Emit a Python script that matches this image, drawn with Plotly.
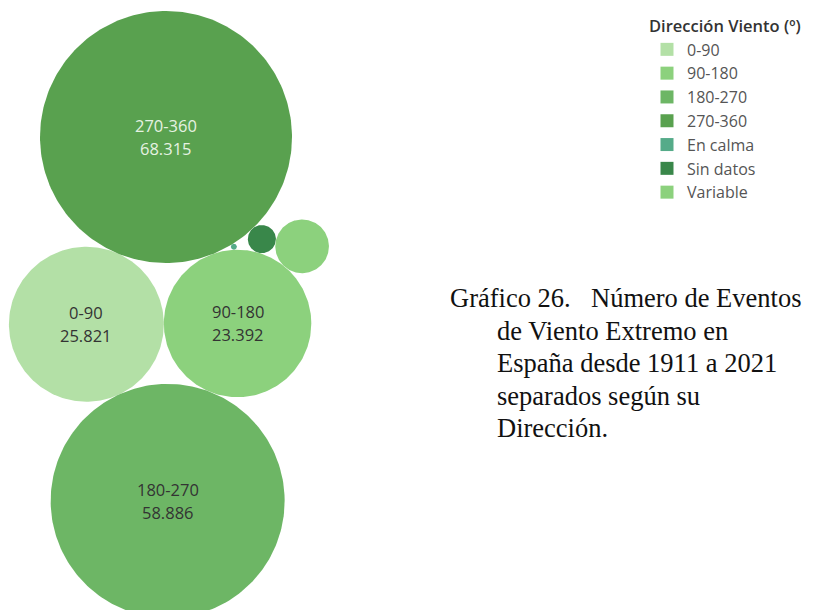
import math
import plotly.graph_objects as go

# ---------------- data ----------------
categories = ["0-90", "90-180", "180-270", "270-360", "En calma", "Sin datos", "Variable"]
events = [25821, 23392, 58886, 68315, 40, 850, 3100]
show_label = [True, True, True, True, False, False, False]
legend_title = "Dirección Viento (º)"
caption_first = "Gráfico 26."
caption_lines = ["Número de Eventos", "de Viento Extremo en", "España desde 1911 a 2021",
                 "separados según su", "Dirección."]

# ---------------- styles ----------------
colors = ["#b3e0a6", "#8cd17d", "#6db665", "#59a14f", "#55ab89", "#39874a", "#8cd17d"]
label_colors = ["#333333", "#333333", "#333333", "#e6f2e2", "#333333", "#333333", "#333333"]
PAGE_W, PAGE_H, BODY = 814, 610, 8      # browser window and default body margin
W, H = PAGE_W - BODY, PAGE_H - BODY
px_per_sqrt = 126 / math.sqrt(68315)   # bubble area proportional to events
anchor = (166, 137)                     # centre of the largest bubble (page px)
first_angle = math.radians(69)          # direction from largest bubble to 90-180

radius = {c: px_per_sqrt * math.sqrt(v) for c, v in zip(categories, events)}


def tangent(p1, r1, p2, r2, r, side):
    """Centre of a circle of radius r touching circles (p1,r1) and (p2,r2)."""
    d1, d2 = r1 + r, r2 + r
    dx, dy = p2[0] - p1[0], p2[1] - p1[1]
    d = math.hypot(dx, dy)
    base = math.atan2(dy, dx)
    cosa = max(-1.0, min(1.0, (d1 ** 2 + d ** 2 - d2 ** 2) / (2 * d1 * d)))
    ang = base + side * math.acos(cosa)
    return (p1[0] + d1 * math.cos(ang), p1[1] + d1 * math.sin(ang))


# ---- packing (tangent placement) ----
pos = {}
A = "270-360"
pos[A] = anchor
dAD = radius[A] + radius["90-180"]
pos["90-180"] = (anchor[0] + dAD * math.cos(first_angle), anchor[1] + dAD * math.sin(first_angle))
pos["0-90"] = tangent(pos[A], radius[A], pos["90-180"], radius["90-180"], radius["0-90"], +1)
pos["180-270"] = tangent(pos["0-90"], radius["0-90"], pos["90-180"], radius["90-180"], radius["180-270"], +1)
pos["Sin datos"] = tangent(pos[A], radius[A], pos["90-180"], radius["90-180"], radius["Sin datos"], -1)
pos["En calma"] = tangent(pos[A], radius[A], pos["90-180"], radius["90-180"], radius["En calma"], -1)
pos["Variable"] = tangent(pos["90-180"], radius["90-180"], pos["Sin datos"], radius["Sin datos"], radius["Variable"], +1)

fig = go.Figure()

# bubbles
for c, col in zip(categories, colors):
    cx, cy = pos[c]
    r = radius[c]
    n = 240
    xs = [cx + r * math.cos(2 * math.pi * i / n) for i in range(n + 1)]
    ys = [cy + r * math.sin(2 * math.pi * i / n) for i in range(n + 1)]
    fig.add_trace(go.Scatter(x=xs, y=ys, mode="lines", fill="toself", fillcolor=col,
                             line=dict(width=0, color=col), hoverinfo="skip", showlegend=False))

# legend entries
for c, col in zip(categories, colors):
    fig.add_trace(go.Scatter(x=[None], y=[None], mode="markers", name=c,
                             marker=dict(symbol="square", size=13, color=col)))

# labels
annotations = []
for c, v, show, lc in zip(categories, events, show_label, label_colors):
    if not show:
        continue
    cx, cy = pos[c]
    num = f"{v:,}".replace(",", ".")
    for txt, shift in ((c, 11.5), (num, -11.5)):
        annotations.append(dict(x=cx, y=cy, xref="x", yref="y", text=txt, showarrow=False,
                                yshift=shift, font=dict(family="Open Sans", size=16.5, color=lc)))

# caption
serif = dict(family="Liberation Serif", size=26.5, color="#111111")
annotations.append(dict(x=448, y=298, xref="x", yref="y", text=caption_first, showarrow=False,
                        xanchor="left", yanchor="middle", font=serif))
for i, line in enumerate(caption_lines):
    annotations.append(dict(x=495 if i > 0 else 589, y=298 + 32.5 * i, xref="x", yref="y",
                            text=line, showarrow=False, xanchor="left", yanchor="middle", font=serif))

fig.update_layout(
    width=W, height=H, autosize=False,
    margin=dict(l=0, r=0, t=0, b=0),
    paper_bgcolor="white", plot_bgcolor="white",
    xaxis=dict(range=[BODY, PAGE_W], visible=False, fixedrange=True, domain=[0, 1]),
    yaxis=dict(range=[PAGE_H, BODY], visible=False, fixedrange=True, domain=[0, 1]),
    annotations=annotations,
    legend=dict(x=(647 - BODY) / W, y=1 - (11 - BODY) / H, xanchor="left", yanchor="top",
                title=dict(text=legend_title, font=dict(family="Open Sans", size=16.5, color="#333333", weight=600)),
                font=dict(family="Open Sans", size=16, color="#555555"),
                bgcolor="rgba(0,0,0,0)", itemclick=False, itemdoubleclick=False),
    showlegend=True,
)

fig.write_html("out.html")
